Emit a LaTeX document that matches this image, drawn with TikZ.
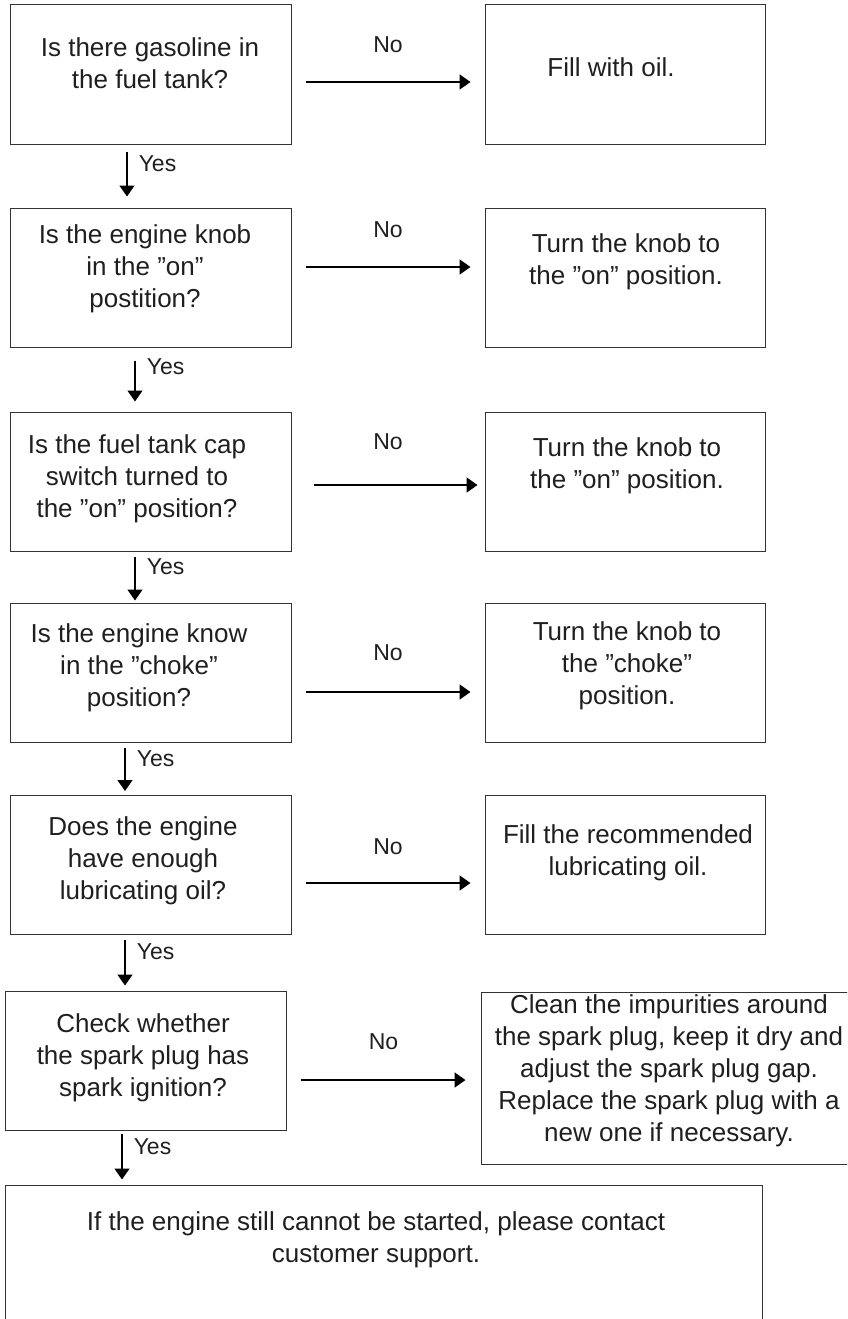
\documentclass[tikz,border=0pt]{standalone}
\usepackage{fontspec}
\setmainfont{Liberation Sans}
\usetikzlibrary{arrows.meta, positioning}

\begin{document}
\begin{tikzpicture}[x=1pt, y=-1pt, >={Triangle[length=11pt, width=15pt]},
  qbox/.style={draw=black!80, line width=1pt, minimum width=281pt, minimum height=139pt, inner sep=0pt},
  abox/.style={qbox, minimum width=280pt},
  txt/.style={align=center, text=black!88, font=\fontsize{26}{32}\selectfont, inner sep=0pt},
  lbl/.style={text=black!88, font=\fontsize{23}{28}\selectfont, inner sep=2pt},
  noarrow/.style={->, line width=1.8pt, shorten <=14pt, shorten >=14pt},
  yesarrow/.style={->, line width=1.5pt}]
  \useasboundingbox (0,0) rectangle (847,1319);
  \clip (0,0) rectangle (847,1319);

  % questions (left column)
  \node[qbox] (q1) at (150.5,74.5) {};
  \node[txt] (q1t) at (150,63.5) {Is there gasoline in\\the fuel tank?};
  \node[qbox] (q2) at (150.5,277.5) {};
  \node[txt] (q2t) at (145,269) {Is the engine knob\\in the ”on”\\postition?};
  \node[qbox] (q3) at (150.5,481.5) {};
  \node[txt] (q3t) at (137,479) {Is the fuel tank cap\\switch turned to\\the ”on” position?};
  \node[qbox] (q4) at (150.5,672.5) {};
  \node[txt] (q4t) at (139,668) {Is the engine know\\in the ”choke”\\position?};
  \node[qbox] (q5) at (150.5,865) {};
  \node[txt] (q5t) at (143,861) {Does the engine\\have enough\\lubricating oil?};
  \node[qbox] (q6) at (145.5,1060.5) {};
  \node[txt] (q6t) at (143,1058) {Check whether\\the spark plug has\\spark ignition?};

  % actions (right column)
  \node[abox] (a1) at (625,74.5) {};
  \node[txt] (a1t) at (611,67) {Fill with oil.};
  \node[abox] (a2) at (625,277.5) {};
  \node[txt] (a2t) at (626,262) {Turn the knob to\\the ”on” position.};
  \node[abox] (a3) at (625,481.5) {};
  \node[txt] (a3t) at (627,466) {Turn the knob to\\the ”on” position.};
  \node[abox] (a4) at (625,672.5) {};
  \node[txt] (a4t) at (627,666) {Turn the knob to\\the ”choke”\\position.};
  \node[abox] (a5) at (625,865) {};
  \node[txt] (a5t) at (628,853) {Fill the recommended\\lubricating oil.};
  \node[abox, minimum width=379pt, minimum height=172pt] (a6) at (670.5,1078) {};
  \node[txt] (a6t) at (669,1071) {Clean the impurities around\\the spark plug, keep it dry and\\adjust the spark plug gap.\\Replace the spark plug with a\\new one if necessary.};

  % last step
  \node[qbox, minimum width=757pt, minimum height=160pt] (fin) at (383.5,1265) {};
  \node[txt] (fint) at (376,1240) {If the engine still cannot be started, please contact\\customer support.};

  % No branches
  \draw[noarrow] ([yshift=-7.5pt]q1.east) -- ([yshift=-7.5pt]q1.east -| a1.west)
    node[lbl, midway, above=26.75pt] (n1) {No};
  \draw[noarrow] ([yshift=10.5pt]q2.east) -- ([yshift=10.5pt]q2.east -| a2.west)
    node[lbl, midway, above=26.75pt] (n2) {No};
  \draw[noarrow, shorten <=22pt, shorten >=7pt] ([yshift=-3.5pt]q3.east) -- ([yshift=-3.5pt]q3.east -| a3.west)
    node[lbl, midway, above=32.75pt] (n3) {No};
  \draw[noarrow] ([yshift=-19.5pt]q4.east) -- ([yshift=-19.5pt]q4.east -| a4.west)
    node[lbl, midway, above=28.75pt] (n4) {No};
  \draw[noarrow] ([yshift=-18pt]q5.east) -- ([yshift=-18pt]q5.east -| a5.west)
    node[lbl, midway, above=25.75pt] (n5) {No};
  \draw[noarrow, shorten >=15pt] ([yshift=-19.5pt]q6.east) -- ([yshift=-19.5pt]q6.east -| a6.west)
    node[lbl, midway, above=27.75pt] (n6) {No};

  % Yes branches
  \draw[yesarrow, shorten <=7pt, shorten >=11pt] ([xshift=-23.5pt]q1.south) -- ([xshift=-23.5pt]q1.south |- q2.north)
    node[lbl, pos=0.3, right=9pt] (y1) {Yes};
  \draw[yesarrow, shorten <=13pt, shorten >=10pt] ([xshift=-15.5pt]q2.south) -- ([xshift=-15.5pt]q2.south |- q3.north)
    node[lbl, pos=0.3, right=9pt] (y2) {Yes};
  \draw[yesarrow, shorten <=5pt, shorten >=2pt] ([xshift=-15.5pt]q3.south) -- ([xshift=-15.5pt]q3.south |- q4.north)
    node[lbl, pos=0.3, right=9pt] (y3) {Yes};
  \draw[yesarrow, shorten <=5pt, shorten >=4pt] ([xshift=-25.5pt]q4.south) -- ([xshift=-25.5pt]q4.south |- q5.north)
    node[lbl, pos=0.3, right=9pt] (y4) {Yes};
  \draw[yesarrow, shorten <=5pt, shorten >=5pt] ([xshift=-25.5pt]q5.south) -- ([xshift=-25.5pt]q5.south |- q6.north)
    node[lbl, pos=0.3, right=9pt] (y5) {Yes};
  \draw[yesarrow, shorten <=3pt, shorten >=5pt] ([xshift=-23.5pt]q6.south) -- ([xshift=-23.5pt]q6.south |- fin.north)
    node[lbl, pos=0.3, right=9pt] (y6) {Yes};
\end{tikzpicture}
\end{document}
